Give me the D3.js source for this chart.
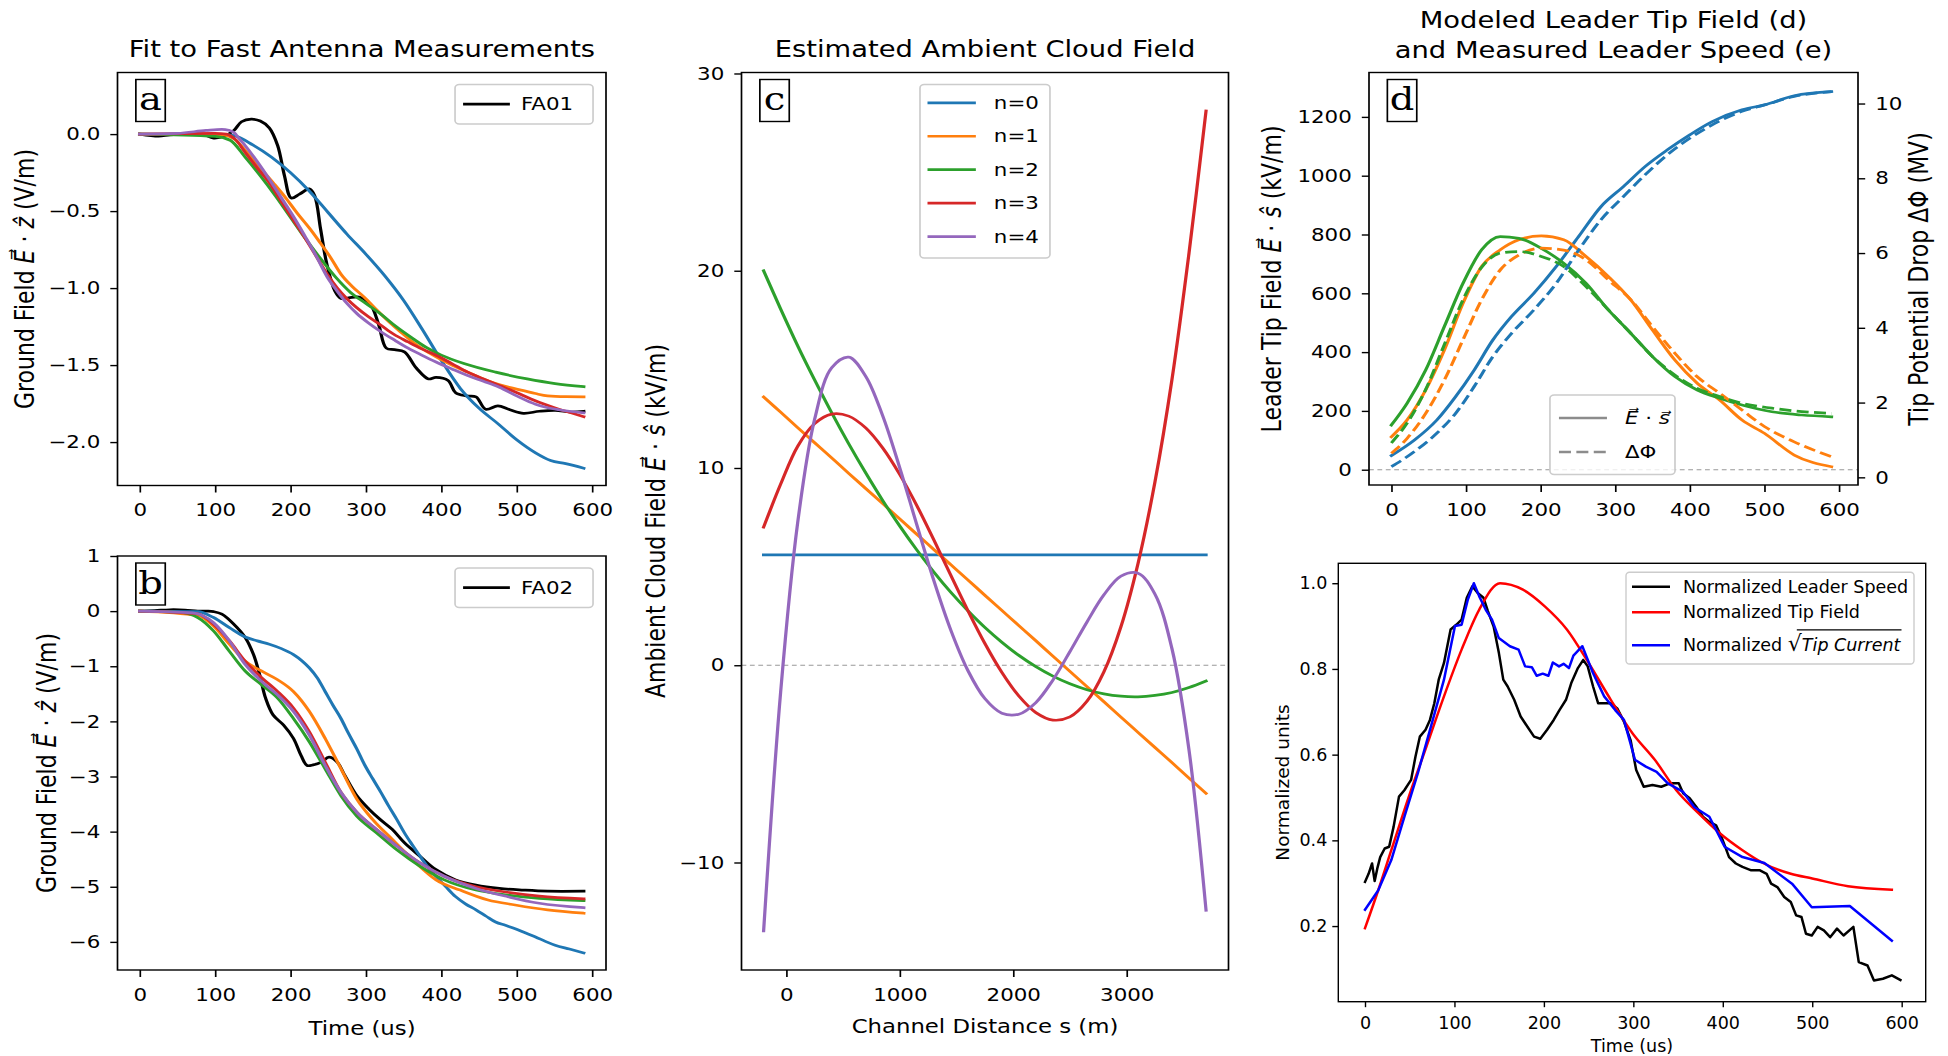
<!DOCTYPE html>
<html>
<head>
<meta charset="utf-8">
<script src="https://cdn.jsdelivr.net/npm/d3@7"></script>
<style>
  body { margin: 0; background: #fff; }
  text { font-family: "DejaVu Sans", sans-serif; fill: #000; }
</style>
</head>
<body>
<script>
// ---------- data ----------
const timeTicks = [0, 100, 200, 300, 400, 500, 600];
const nLabels = ["n=0", "n=1", "n=2", "n=3", "n=4"];
const nColors = ["#1f77b4", "#ff7f0e", "#2ca02c", "#d62728", "#9467bd"];

// (a) ground field at FA01, [time us, V/m]
const fa01 = [[0,0],[25,-0.013],[40,-0.005],[60,0],[83,0],[98,-0.026],[114,-0.01],[125,0.024],[135,0.08],[148,0.097],[160,0.085],[172,0.04],[183,-0.075],[192,-0.27],[201,-0.415],[212,-0.39],[225,-0.356],[232,-0.40],[240,-0.62],[248,-0.84],[259,-1.02],[267,-1.067],[277,-1.063],[291,-1.058],[306,-1.106],[317,-1.238],[327,-1.39],[338,-1.40],[351,-1.414],[367,-1.52],[383,-1.59],[393,-1.58],[409,-1.60],[419,-1.68],[433,-1.70],[446,-1.706],[459,-1.787],[475,-1.765],[491,-1.79],[509,-1.813],[530,-1.80],[551,-1.794],[572,-1.805],[589,-1.80]];
const aFitN0 = [[0,0],[60,0],[110,-0.003],[125,-0.01],[150,-0.07],[175,-0.15],[200,-0.25],[225,-0.37],[250,-0.51],[275,-0.65],[300,-0.78],[325,-0.92],[350,-1.08],[375,-1.27],[400,-1.47],[425,-1.65],[450,-1.78],[475,-1.88],[500,-1.985],[525,-2.07],[545,-2.12],[565,-2.14],[589,-2.17]];
const aFitN1 = [[0,0],[110,-0.005],[125,-0.03],[146,-0.14],[160,-0.22],[177,-0.316],[193,-0.41],[209,-0.514],[225,-0.61],[240,-0.71],[253,-0.80],[267,-0.91],[282,-0.99],[298,-1.06],[314,-1.14],[330,-1.216],[346,-1.285],[362,-1.35],[380,-1.41],[398,-1.46],[416,-1.505],[435,-1.546],[453,-1.585],[472,-1.62],[490,-1.645],[509,-1.666],[525,-1.685],[541,-1.70],[565,-1.705],[589,-1.706]];
const aFitN2 = [[0,0],[100,-0.015],[120,-0.04],[140,-0.15],[160,-0.27],[180,-0.40],[200,-0.54],[220,-0.68],[240,-0.81],[260,-0.93],[280,-1.03],[300,-1.10],[320,-1.17],[340,-1.25],[360,-1.32],[380,-1.385],[400,-1.435],[430,-1.49],[472,-1.546],[514,-1.59],[551,-1.62],[589,-1.64]];
const aFitN3 = [[0,0],[100,0.005],[115,0],[128,-0.04],[140,-0.12],[156,-0.22],[172,-0.316],[188,-0.44],[204,-0.56],[220,-0.68],[235,-0.80],[250,-0.92],[262,-1.0],[275,-1.07],[288,-1.128],[303,-1.185],[319,-1.238],[337,-1.30],[356,-1.35],[374,-1.395],[393,-1.436],[414,-1.49],[435,-1.546],[456,-1.59],[477,-1.633],[498,-1.675],[519,-1.72],[537,-1.755],[556,-1.787],[572,-1.81],[589,-1.835]];
const aFitN4 = [[0,0],[50,0.005],[88,0.024],[109,0.031],[118,0.025],[125,0.01],[132,-0.03],[140,-0.075],[156,-0.18],[172,-0.294],[188,-0.415],[204,-0.536],[220,-0.67],[235,-0.80],[249,-0.93],[262,-1.02],[275,-1.10],[288,-1.165],[303,-1.225],[319,-1.28],[337,-1.335],[356,-1.39],[374,-1.435],[393,-1.48],[414,-1.525],[435,-1.568],[456,-1.605],[477,-1.644],[500,-1.70],[525,-1.754],[540,-1.775],[556,-1.79],[589,-1.81]];
const aTicks = [0, -0.5, -1, -1.5, -2];

// (b) ground field at FA02
const fa02 = [[0,0],[20,0.01],[40,0.025],[60,0.02],[77,0],[90,0],[98,-0.01],[109,-0.055],[125,-0.24],[140,-0.48],[151,-0.79],[159,-1.15],[167,-1.58],[177,-1.885],[191,-2.07],[204,-2.31],[214,-2.62],[222,-2.80],[230,-2.79],[241,-2.74],[251,-2.65],[262,-2.74],[272,-2.98],[288,-3.35],[304,-3.59],[319,-3.78],[335,-3.96],[351,-4.20],[372,-4.45],[393,-4.69],[419,-4.875],[446,-4.97],[477,-5.03],[509,-5.06],[541,-5.08],[589,-5.08]];
const bFitN0 = [[0,0],[77,-0.01],[98,-0.116],[119,-0.30],[140,-0.47],[156,-0.54],[172,-0.60],[188,-0.68],[204,-0.79],[215,-0.90],[225,-1.03],[236,-1.22],[246,-1.46],[256,-1.70],[267,-1.95],[277,-2.22],[288,-2.50],[298,-2.78],[309,-3.04],[320,-3.29],[330,-3.53],[341,-3.78],[351,-4.02],[362,-4.25],[372,-4.45],[382,-4.64],[393,-4.81],[406,-5.0],[419,-5.18],[432,-5.31],[446,-5.42],[459,-5.53],[472,-5.64],[485,-5.70],[498,-5.76],[512,-5.84],[525,-5.91],[538,-5.99],[551,-6.06],[570,-6.13],[589,-6.20]];
const bFitN1 = [[0,0],[77,-0.08],[98,-0.27],[119,-0.60],[140,-0.91],[162,-1.09],[183,-1.245],[204,-1.46],[225,-1.82],[246,-2.31],[267,-2.86],[288,-3.41],[309,-3.78],[335,-4.14],[362,-4.51],[393,-4.875],[425,-5.06],[462,-5.24],[498,-5.33],[541,-5.42],[589,-5.48]];
const bFitN2 = [[0,0],[51,-0.02],[77,-0.116],[98,-0.36],[119,-0.73],[140,-1.09],[162,-1.34],[183,-1.58],[204,-1.95],[225,-2.37],[246,-2.86],[267,-3.35],[288,-3.72],[314,-4.02],[341,-4.33],[372,-4.63],[404,-4.875],[446,-5.06],[488,-5.15],[530,-5.21],[589,-5.25]];
const bFitN3 = [[0,0],[77,-0.05],[98,-0.24],[119,-0.54],[140,-0.91],[162,-1.21],[183,-1.46],[204,-1.76],[225,-2.19],[246,-2.74],[267,-3.29],[288,-3.65],[314,-3.96],[341,-4.26],[372,-4.57],[404,-4.81],[446,-5.0],[488,-5.10],[530,-5.17],[589,-5.22]];
const bFitN4 = [[0,0],[70,-0.03],[98,-0.21],[119,-0.54],[140,-0.97],[162,-1.28],[183,-1.52],[204,-1.82],[225,-2.25],[246,-2.80],[267,-3.29],[288,-3.65],[314,-3.96],[341,-4.26],[372,-4.57],[404,-4.81],[446,-5.03],[488,-5.18],[530,-5.30],[589,-5.38]];
const bTicks = [1, 0, -1, -2, -3, -4, -5, -6];

// (c) ambient cloud field vs channel distance (m), kV/m
const cDist = [-200,-50,100,250,400,550,700,850,1000,1150,1300,1450,1600,1750,1900,2050,2200,2350,2500,2650,2800,2950,3100,3250,3400,3550,3700];
const cN0 = [5.6,5.6,5.6,5.6,5.6,5.6,5.6,5.6,5.6,5.6,5.6,5.6,5.6,5.6,5.6,5.6,5.6,5.6,5.6,5.6,5.6,5.6,5.6,5.6,5.6,5.6,5.6];
const cN1 = [13.6,12.83,12.05,11.28,10.51,9.73,8.96,8.19,7.42,6.64,5.87,5.10,4.33,3.55,2.78,2.01,1.24,0.46,-0.31,-1.08,-1.85,-2.63,-3.40,-4.17,-4.94,-5.72,-6.5];
const cN2 = [20.0,18.06,16.2,14.46,12.8,11.23,9.75,8.35,7.06,5.85,4.73,3.70,2.77,1.92,1.17,0.50,-0.07,-0.55,-0.94,-1.24,-1.45,-1.57,-1.6,-1.53,-1.38,-1.13,-0.8];
const cN3 = [7.0,9.18,11.1,12.25,12.73,12.63,12.03,11.01,9.67,8.10,6.36,4.56,2.78,1.11,-0.36,-1.56,-2.4,-2.78,-2.62,-1.83,-0.33,1.96,5.15,9.30,14.5,20.9,28.1];
const cN4 = [-13.47,-1.36,7.22,12.48,15.08,15.62,14.65,12.64,10.01,7.13,4.30,1.78,-0.26,-1.69,-2.43,-2.48,-1.89,-0.75,0.69,2.19,3.57,4.52,4.67,3.6,0.83,-4.3,-12.42];
const cXTicks = [0, 1000, 2000, 3000];
const cYTicks = [-10, 0, 10, 20, 30];

// (d) leader tip field (kV/m, solid) and tip potential drop (MV, dashed)
const dFieldN0 = [[0,48],[31,101],[61,169],[86,248],[111,339],[136,441],[161,521],[191,600],[221,691],[251,793],[281,895],[311,963],[340,1031],[370,1088],[400,1139],[430,1184],[470,1224],[500,1241],[540,1272],[590,1286]];
const dFieldN1 = [[0,112],[21,169],[46,271],[71,407],[96,566],[121,691],[146,748],[171,782],[201,795],[231,782],[261,725],[291,657],[321,577],[350,475],[380,373],[410,294],[440,237],[470,169],[500,124],[540,50],[590,10]];
const dFieldN2 = [[0,152],[21,226],[46,339],[71,487],[96,634],[121,748],[146,793],[171,787],[201,753],[231,702],[261,634],[291,543],[321,464],[350,385],[380,317],[410,271],[440,243],[470,220],[510,197],[550,186],[590,180]];
const dDropN0 = [[0,0.285],[31,0.69],[61,1.18],[86,1.71],[111,2.43],[136,3.23],[161,3.85],[191,4.48],[221,5.19],[251,6.08],[281,6.89],[311,7.51],[340,8.09],[370,8.63],[400,9.07],[430,9.43],[470,9.79],[500,9.96],[540,10.19],[590,10.32]];
const dDropN1 = [[0,0.64],[21,1.04],[46,1.71],[71,2.60],[96,3.68],[121,4.75],[146,5.55],[171,5.95],[201,6.13],[231,6.08],[261,5.82],[291,5.28],[321,4.75],[350,4.03],[380,3.32],[410,2.69],[440,2.25],[470,1.80],[500,1.36],[540,0.95],[590,0.55]];
const dDropN2 = [[0,0.92],[21,1.45],[46,2.35],[71,3.55],[96,4.75],[121,5.62],[146,6.0],[171,6.04],[201,5.91],[231,5.64],[261,5.10],[291,4.48],[321,3.85],[350,3.23],[380,2.74],[410,2.38],[440,2.16],[470,1.98],[510,1.85],[550,1.76],[590,1.71]];
const dFieldTicks = [0, 200, 400, 600, 800, 1000, 1200];
const dDropTicks = [0, 2, 4, 6, 8, 10];

// (e) normalized quantities
const eSpeed = [[0,0.303],[4,0.322],[7.9,0.346],[10.8,0.305],[13.7,0.334],[17,0.361],[22,0.381],[27,0.385],[32,0.432],[38,0.502],[44,0.517],[51.5,0.541],[56.4,0.595],[61.3,0.642],[67.7,0.658],[72.6,0.681],[77.5,0.72],[82.4,0.775],[88.3,0.814],[95.7,0.892],[102,0.903],[108,0.915],[113.8,0.966],[120,0.993],[126,0.977],[132.5,0.966],[137.4,0.935],[143.8,0.899],[149.7,0.837],[154.6,0.775],[159.5,0.759],[166.8,0.728],[174,0.689],[181.6,0.665],[189,0.642],[196,0.637],[203.6,0.658],[211,0.681],[217.4,0.704],[224.7,0.728],[230.6,0.767],[238,0.802],[244,0.821],[249,0.806],[255,0.759],[260.6,0.72],[267.4,0.72],[274.8,0.72],[282,0.708],[289.5,0.677],[296.9,0.634],[303.2,0.564],[311.6,0.525],[321.4,0.529],[331.2,0.525],[341,0.533],[350.8,0.533],[355.7,0.51],[363,0.498],[370.5,0.478],[377.8,0.455],[385,0.443],[392.5,0.435],[400,0.40],[407,0.361],[414.6,0.346],[422,0.338],[431.8,0.33],[441.6,0.33],[449,0.322],[454,0.299],[461,0.291],[468.7,0.268],[476,0.256],[482,0.225],[488,0.221],[493,0.182],[499.5,0.178],[506,0.198],[513,0.19],[520,0.174],[527.7,0.194],[535,0.178],[546,0.198],[552,0.116],[561.8,0.108],[569,0.073],[579,0.077],[589,0.085],[598.6,0.074]];
const eTipField = [[0,0.195],[14.7,0.283],[29.4,0.377],[49,0.502],[68.7,0.619],[88.3,0.736],[108,0.845],[127.6,0.938],[151,1.0],[176.6,0.985],[201,0.946],[225.7,0.892],[250,0.814],[274.8,0.728],[299,0.65],[324,0.588],[348,0.517],[373,0.463],[397,0.416],[422,0.377],[446,0.346],[476,0.322],[500,0.311],[540,0.293],[589,0.285]];
const eSqrtCurrent = [[0,0.238],[14.7,0.283],[29.4,0.354],[44,0.455],[59,0.556],[73.6,0.665],[88.3,0.775],[100.6,0.9],[108,0.903],[115,0.962],[121.7,1.0],[127.6,0.97],[135,0.938],[142,0.915],[149.6,0.872],[162,0.853],[171.7,0.845],[179,0.806],[186.5,0.804],[192,0.784],[198.7,0.789],[205,0.784],[210,0.815],[216.9,0.806],[222,0.812],[228,0.802],[233,0.831],[243,0.853],[255,0.79],[267.4,0.736],[279.7,0.704],[289.5,0.681],[301.8,0.588],[314,0.572],[326,0.56],[338.6,0.533],[355.7,0.513],[368,0.478],[385,0.455],[402,0.385],[422,0.361],[446.5,0.347],[477.4,0.299],[499.5,0.244],[542,0.247],[589,0.166]];
const eYTicks = [0.2, 0.4, 0.6, 0.8, 1.0];

// ---------- layout ----------
// the source figure (panels a-d) is stretched horizontally, so those panels
// are drawn in a group scaled by SX
const SX = 1.2;
const tickFont = 17.8, labelFont = 19, yLabelFont = 22, titleFont = 22.8, eFont = 17.5;

const svg = d3.select("body").append("svg").attr("width", 1948).attr("height", 1056);
const wide = svg.append("g").attr("transform", `scale(${SX},1)`);

function panel(parent, b, xd, yd) {
  const g = parent.append("g").attr("transform", `translate(${b.x},${b.y})`);
  const x = d3.scaleLinear().domain(xd).range([0, b.w]);
  const y = d3.scaleLinear().domain(yd).range([b.h, 0]);
  return {g, x, y, w: b.w, h: b.h};
}

function tidy(a, fs) {
  a.select(".domain").remove();
  a.selectAll(".tick line").attr("stroke", "#000").attr("stroke-width", 1.4);
  a.selectAll(".tick text").attr("fill", "#000").attr("font-size", fs);
}

function bottomAxis(p, ticks, fmt, size, pad, fs) {
  const a = p.g.append("g").attr("transform", `translate(0,${p.h})`)
    .call(d3.axisBottom(p.x).tickValues(ticks).tickFormat(fmt).tickSize(size).tickPadding(pad));
  tidy(a, fs);
}

function leftAxis(p, scale, ticks, fmt, size, pad, fs) {
  const a = p.g.append("g")
    .call(d3.axisLeft(scale).tickValues(ticks).tickFormat(fmt).tickSize(size).tickPadding(pad));
  tidy(a, fs);
}

function rightAxis(p, scale, ticks, fmt, size, pad, fs) {
  const a = p.g.append("g").attr("transform", `translate(${p.w},0)`)
    .call(d3.axisRight(scale).tickValues(ticks).tickFormat(fmt).tickSize(size).tickPadding(pad));
  tidy(a, fs);
}

function frame(p, sw) {
  p.g.append("rect").attr("width", p.w).attr("height", p.h)
    .attr("fill", "none").attr("stroke", "#000").attr("stroke-width", sw);
}

function draw(p, pts, color, opts = {}) {
  const ys = opts.y || p.y;
  const line = d3.line().x(d => p.x(d[0])).y(d => ys(d[1])).curve(opts.curve || d3.curveMonotoneX);
  p.g.append("path").datum(pts).attr("d", line)
    .attr("fill", "none").attr("stroke", color).attr("stroke-width", opts.sw || 2.7)
    .attr("stroke-dasharray", opts.dash || null)
    .attr("stroke-linejoin", "round").attr("stroke-linecap", opts.dash ? "butt" : "square");
}

function zeroLine(p, ys) {
  p.g.append("line").attr("x1", 0).attr("x2", p.w).attr("y1", ys(0)).attr("y2", ys(0))
    .attr("stroke", "#999").attr("stroke-width", 1.1).attr("stroke-dasharray", "4,3");
}

function tag(p, letter) {
  const g = p.g.append("g").attr("transform", "translate(15.3,7)");
  g.append("rect").attr("width", 24.5).attr("height", 42)
    .attr("fill", "#fff").attr("stroke", "#000").attr("stroke-width", 1.4);
  g.append("text").attr("x", 12.25).attr("y", 31).attr("text-anchor", "middle")
    .style("font-family", '"DejaVu Serif", serif').attr("font-size", 32).text(letter);
}

function legendFrame(p, x, y, w, h) {
  p.g.append("rect").attr("x", x).attr("y", y).attr("width", w).attr("height", h).attr("rx", 3.5)
    .attr("fill", "#fff").attr("fill-opacity", 0.8).attr("stroke", "#ccc").attr("stroke-width", 1.4);
}

function legendRow(p, x0, x1, tx, y, color, dash, fs, sw) {
  p.g.append("line").attr("x1", x0).attr("x2", x1).attr("y1", y).attr("y2", y)
    .attr("stroke", color).attr("stroke-width", sw || 2.7).attr("stroke-dasharray", dash || null);
  return p.g.append("text").attr("x", tx).attr("y", y).attr("dy", "0.35em").attr("font-size", fs);
}

function rich(t, parts) {
  parts.forEach(([s, it]) => {
    const ts = t.append("tspan").text(s);
    if (it) ts.attr("font-style", "italic");
  });
  return t;
}

function yLabel(parent, x, y, fs, parts) {
  const t = parent.append("text").attr("transform", `translate(${x},${y}) rotate(-90)`)
    .attr("text-anchor", "middle").attr("dy", "0.35em").attr("font-size", fs);
  return rich(t, parts);
}

function centered(parent, x, y, fs, s) {
  return parent.append("text").attr("x", x).attr("y", y).attr("text-anchor", "middle")
    .attr("font-size", fs).text(s);
}

const fmt1 = d3.format(".1f"), fmtD = d3.format("d");
const groundLabel = [["Ground Field "], ["E\u20D7", true], [" \u00B7 "], ["\u1E91", true], [" (V/m)"]];

// ---------- (a) ----------
const pa = panel(wide, {x: 117.5 / SX, y: 72.5, w: 488.5 / SX, h: 413}, [-29.45, 618.45], [-2.282, 0.40]);
draw(pa, fa01, "#000", {curve: d3.curveCatmullRom});
[aFitN0, aFitN1, aFitN2, aFitN3, aFitN4].forEach((s, i) => draw(pa, s, nColors[i]));
bottomAxis(pa, timeTicks, fmtD, 7, 11, tickFont);
leftAxis(pa, pa.y, aTicks, fmt1, 6, 8.4, tickFont);
legendFrame(pa, pa.w - 10.8 - 115, 12, 115, 39.5);
legendRow(pa, pa.w - 119.1, pa.w - 80.1, pa.w - 70.8, 31.7, "#000", null, tickFont).text("FA01");
tag(pa, "a");
frame(pa, 1.4);
centered(wide, 362 / SX, 57, titleFont, "Fit to Fast Antenna Measurements");
yLabel(wide, 24.8 / SX, 279, yLabelFont, groundLabel);

// ---------- (b) ----------
const pb = panel(wide, {x: 117.5 / SX, y: 556, w: 488.5 / SX, h: 414}, [-29.45, 618.45], [-6.51, 1.0]);
draw(pb, fa02, "#000", {curve: d3.curveCatmullRom});
[bFitN0, bFitN1, bFitN2, bFitN3, bFitN4].forEach((s, i) => draw(pb, s, nColors[i]));
bottomAxis(pb, timeTicks, fmtD, 7, 11, tickFont);
leftAxis(pb, pb.y, bTicks, fmtD, 6, 8.4, tickFont);
legendFrame(pb, pb.w - 10.8 - 115, 12, 115, 39.5);
legendRow(pb, pb.w - 119.1, pb.w - 80.1, pb.w - 70.8, 31.7, "#000", null, tickFont).text("FA02");
tag(pb, "b");
frame(pb, 1.4);
centered(wide, 362 / SX, 1028, labelFont, "Time (us)").attr("dy", "0.35em");
yLabel(wide, 46.6 / SX, 763, yLabelFont, groundLabel);

// ---------- (c) ----------
const pc = panel(wide, {x: 741.5 / SX, y: 72.5, w: 487 / SX, h: 897.5}, [-395, 3898], [-15.45, 30.05]);
zeroLine(pc, pc.y);
[cN0, cN1, cN2, cN3, cN4].forEach((vals, i) =>
  draw(pc, cDist.map((d, j) => [d, vals[j]]), nColors[i], {curve: d3.curveCatmullRom}));
bottomAxis(pc, cXTicks, fmtD, 7, 11, tickFont);
leftAxis(pc, pc.y, cYTicks, fmtD, 6, 8.4, tickFont);
legendFrame(pc, 148.75, 12, 108.3, 173.5);
nLabels.forEach((s, i) => legendRow(pc, 155, 195.3, 210.3, 30.3 + i * 33.45, nColors[i], null, tickFont).text(s));
tag(pc, "c");
frame(pc, 1.4);
centered(wide, 985 / SX, 57.5, titleFont, "Estimated Ambient Cloud Field");
centered(wide, 985 / SX, 1026, labelFont, "Channel Distance s (m)").attr("dy", "0.35em");
yLabel(wide, 656 / SX, 521, yLabelFont,
  [["Ambient Cloud Field "], ["E\u20D7", true], [" \u00B7 "], ["\u015D", true], [" (kV/m)"]]);

// ---------- (d) ----------
const pd = panel(wide, {x: 1369 / SX, y: 72.5, w: 489 / SX, h: 412.5}, [-30, 625.5], [-52, 1351]);
const dRight = d3.scaleLinear().domain([-0.205, 10.83]).range([pd.h, 0]);
zeroLine(pd, pd.y);
[dFieldN0, dFieldN1, dFieldN2].forEach((s, i) => draw(pd, s, nColors[i]));
[dDropN0, dDropN1, dDropN2].forEach((s, i) => draw(pd, s, nColors[i], {y: dRight, dash: "10,4.5"}));
bottomAxis(pd, timeTicks, fmtD, 7, 11, tickFont);
leftAxis(pd, pd.y, dFieldTicks, fmtD, 6, 8.4, tickFont);
rightAxis(pd, dRight, dDropTicks, fmtD, 6, 8.4, tickFont);
legendFrame(pd, 150.8, 322.5, 104.2, 79.5);
rich(legendRow(pd, 158.3, 198.3, 213.3, 345.5, "#8c8c8c", null, tickFont),
  [["E\u20D7", true], [" \u00B7 "], ["s\u20D7", true]]);
legendRow(pd, 158.3, 198.3, 213.3, 379.5, "#8c8c8c", "10,4.5", tickFont).text("\u0394\u03A6");
tag(pd, "d");
frame(pd, 1.4);
centered(wide, 1613.5 / SX, 28, titleFont, "Modeled Leader Tip Field (d)");
centered(wide, 1613.5 / SX, 58, titleFont, "and Measured Leader Speed (e)");
yLabel(wide, 1272 / SX, 279, yLabelFont,
  [["Leader Tip Field "], ["E\u20D7", true], [" \u00B7 "], ["\u015D", true], [" (kV/m)"]]);
yLabel(wide, 1919 / SX, 279, yLabelFont, [["Tip Potential Drop \u0394\u03A6 (MV)"]]);

// ---------- (e) ----------
const pe = panel(svg, {x: 1338.3, y: 563.3, w: 587.4, h: 438.4}, [-29.85, 626.85], [0.0235, 1.0465]);
draw(pe, eSpeed, "#000", {curve: d3.curveLinear, sw: 2.5});
draw(pe, eTipField, "#ff0000", {sw: 2.5});
draw(pe, eSqrtCurrent, "#0000ff", {curve: d3.curveLinear, sw: 2.5});
bottomAxis(pe, timeTicks, fmtD, 5.5, 9, eFont);
leftAxis(pe, pe.y, eYTicks, fmt1, 6, 5, eFont);
legendFrame(pe, 287.7, 9, 288, 91.7);
legendRow(pe, 293.7, 331.7, 344.7, 23.4, "#000", null, eFont, 2.5).text("Normalized Leader Speed");
legendRow(pe, 293.7, 331.7, 344.7, 49, "#ff0000", null, eFont, 2.5).text("Normalized Tip Field");
const sqrtRow = legendRow(pe, 293.7, 331.7, 344.7, 82, "#0000ff", null, eFont, 2.5);
sqrtRow.append("tspan").text("Normalized ");
sqrtRow.append("tspan").attr("font-size", 22).text("\u221A");
sqrtRow.append("tspan").attr("font-style", "italic").text("Tip Current");
{
  const node = sqrtRow.node();
  const start = node.getStartPositionOfChar(11).x + 9;
  const end = node.getEndPositionOfChar(node.getNumberOfChars() - 1).x + 1;
  pe.g.append("line").attr("x1", start).attr("x2", end).attr("y1", 66.5).attr("y2", 66.5)
    .attr("stroke", "#000").attr("stroke-width", 1.2);
}
frame(pe, 1.4);
centered(svg, 1632, 1046, eFont, "Time (us)").attr("dy", "0.35em");
yLabel(svg, 1283, 782.5, 18.5, [["Normalized units"]]);
</script>
</body>
</html>
